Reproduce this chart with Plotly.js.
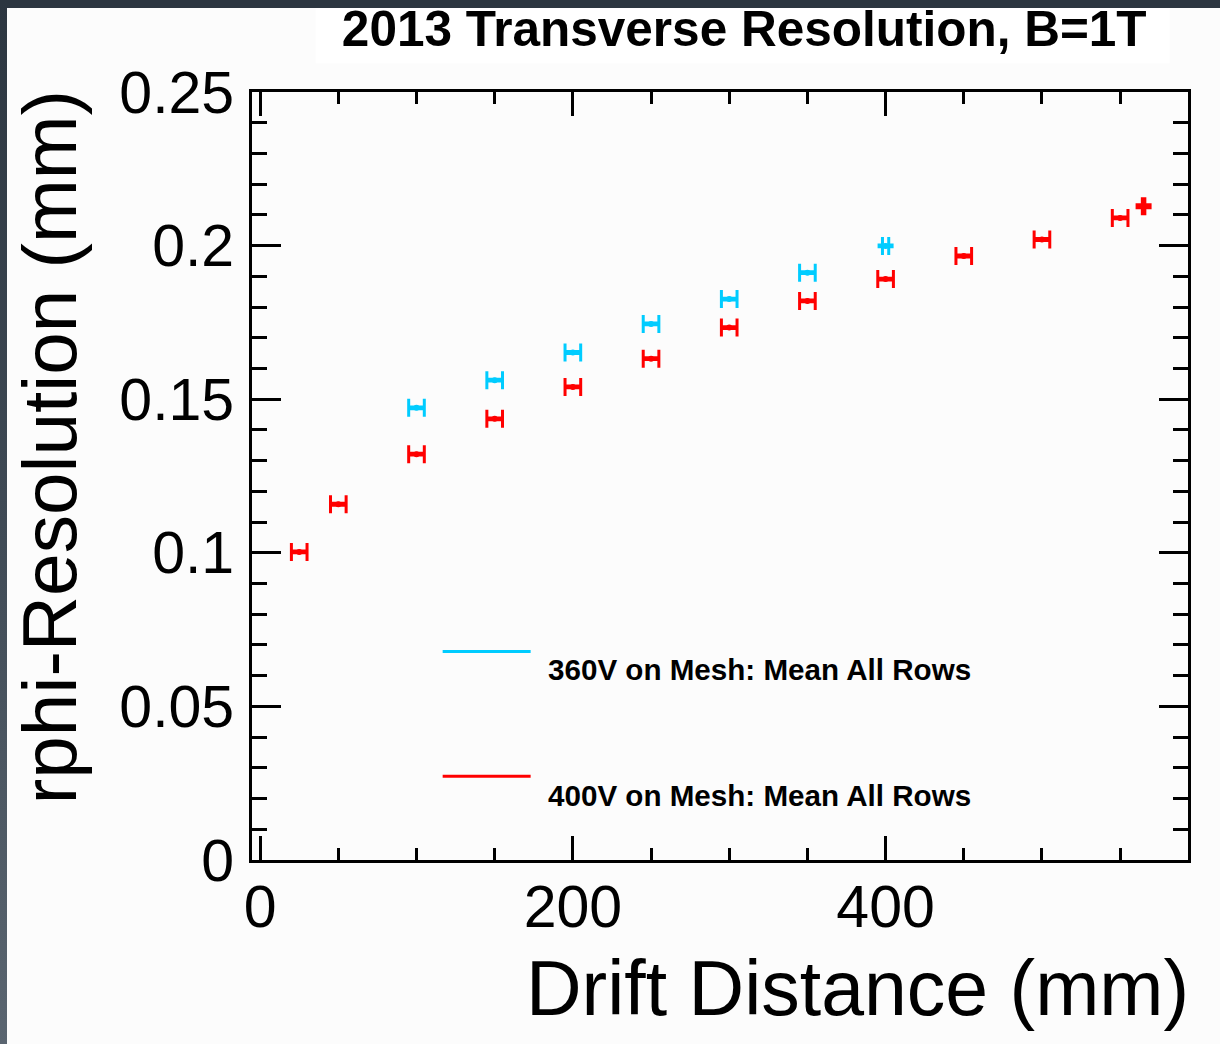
<!DOCTYPE html>
<html>
<head>
<meta charset="utf-8">
<script src="https://cdn.plot.ly/plotly-3.0.1.min.js"></script>
<style>
  html, body { margin: 0; padding: 0; width: 1220px; height: 1044px; overflow: hidden; background: #fcfcfc; }
  #plot { position: absolute; left: 0; top: 0; width: 1220px; height: 1044px; }
  .band { position: absolute; z-index: 10; }
  #band-top { left: 0; top: 0; width: 1220px; height: 8px; background: #2c3640; }
  #band-left { left: 0; top: 0; width: 7px; height: 1044px;
    background: linear-gradient(to bottom, #2c3640 0%, #3f4a55 50%, #5a6570 100%); }
</style>
</head>
<body>
<div id="plot"></div>
<div class="band" id="band-top"></div>
<div class="band" id="band-left"></div>
<script>
// Drift distance (mm) and mean rphi resolution (mm), 400 V on the mesh
const red_x  = [25, 50, 100, 150, 200, 250, 300, 350, 400, 450, 500, 550, 565];
const red_y  = [0.1003, 0.1158, 0.1321, 0.1436, 0.1540, 0.1632, 0.1733, 0.1820, 0.1891, 0.1966, 0.2020, 0.2090, 0.2128];
const red_ex = [5.0, 5.0, 5.0, 5.0, 5.0, 5.0, 5.0, 5.0, 5.0, 5.0, 5.0, 5.0, 0.8];
const red_ey = [0.0003, 0.0003, 0.0003, 0.0003, 0.0003, 0.0003, 0.0003, 0.0003, 0.0003, 0.0003, 0.0003, 0.0003, 0.0005];

// Same measurement with 360 V on the mesh
const cyan_x  = [100, 150, 200, 250, 300, 350, 400];
const cyan_y  = [0.1472, 0.1562, 0.1652, 0.1745, 0.1826, 0.1912, 0.1999];
const cyan_ex = [5.0, 5.0, 5.0, 5.0, 5.0, 5.0, 2.0];
const cyan_ey = [0.0003, 0.0003, 0.0003, 0.0003, 0.0003, 0.0003, 0.0003];

const series_names = ['360V on Mesh: Mean All Rows', '400V on Mesh: Mean All Rows'];
const chart_title = '2013 Transverse Resolution, B=1T';
const x_title = 'Drift Distance (mm)';
const y_title = 'rphi-Resolution (mm)';

const CYAN = '#00ccff';
const RED = '#ff0000';
const FONT = 'Liberation Sans, Arial, Helvetica, sans-serif';

function errTrace(x, y, ex, ey, color, name) {
  return {
    type: 'scatter', mode: 'markers', name: name,
    x: x, y: y,
    marker: { size: 0, color: color },
    error_x: { type: 'data', array: ex, symmetric: true, color: color, thickness: 3, width: 9 },
    error_y: { type: 'data', array: ey, symmetric: true, color: color, thickness: 3, width: 8 },
    hoverinfo: 'skip', showlegend: false
  };
}

const traces = [
  errTrace(cyan_x, cyan_y, cyan_ex, cyan_ey, CYAN, series_names[0]),
  errTrace(red_x, red_y, red_ex, red_ey, RED, series_names[1])
];

const axisCommon = {
  showline: true, linecolor: '#000', linewidth: 3, mirror: 'ticks',
  showgrid: false, zeroline: false,
  ticks: 'inside', tickcolor: '#000', tickwidth: 3,
  tickfont: { family: FONT, size: 59, color: '#000' }
};

const layout = {
  width: 1220, height: 1044,
  margin: { l: 252.3, r: 31.7, t: 91.7, b: 183.5, pad: 0 },
  paper_bgcolor: '#fcfcfc', plot_bgcolor: '#fcfcfc',
  showlegend: false,
  title: {
    text: chart_title,
    font: { family: FONT, size: 49.5, color: '#000', weight: 'bold' },
    xref: 'paper', x: 0.5259, xanchor: 'center',
    yref: 'container', y: 0.9722, yanchor: 'middle'
  },
  xaxis: Object.assign({}, axisCommon, {
    range: [-5.2, 593.4], tick0: 0, dtick: 200, ticklen: 24,
    minor: { dtick: 50, tick0: 0, ticks: 'inside', ticklen: 12, tickwidth: 3, tickcolor: '#000' },
    ticklabelstandoff: -7
  }),
  yaxis: Object.assign({}, axisCommon, {
    range: [0, 0.25], tick0: 0, dtick: 0.05, ticklen: 29,
    minor: { dtick: 0.01, tick0: 0, ticks: 'inside', ticklen: 15, tickwidth: 3, tickcolor: '#000' },
    ticklabelstandoff: 3
  }),
  shapes: [
    // title box
    { type: 'rect', xref: 'paper', yref: 'paper', x0: 0.068, x1: 0.9805, y0: 1.0373, y1: 1.1089,
      fillcolor: '#ffffff', line: { width: 0 }, layer: 'below' },
    // legend lines
    { type: 'line', xref: 'paper', yref: 'paper', x0: 0.2037, x1: 0.2977, y0: 0.2716, y1: 0.2716,
      line: { color: CYAN, width: 3 } },
    { type: 'line', xref: 'paper', yref: 'paper', x0: 0.2037, x1: 0.2977, y0: 0.109, y1: 0.109,
      line: { color: RED, width: 3 } }
  ],
  annotations: [
    { text: series_names[0], xref: 'paper', yref: 'paper', x: 0.3145, y: 0.2478,
      xanchor: 'left', yanchor: 'middle', showarrow: false,
      font: { family: FONT, size: 29.6, color: '#000', weight: 'bold' } },
    { text: series_names[1], xref: 'paper', yref: 'paper', x: 0.3145, y: 0.0839,
      xanchor: 'left', yanchor: 'middle', showarrow: false,
      font: { family: FONT, size: 29.6, color: '#000', weight: 'bold' } },
    { text: x_title, xref: 'paper', yref: 'paper', x: 1.0035, y: -0.1665,
      xanchor: 'right', yanchor: 'middle', showarrow: false,
      font: { family: FONT, size: 77, color: '#000' } },
    { text: y_title, xref: 'paper', yref: 'paper', x: -0.2162, y: 1.0045, textangle: -90,
      xanchor: 'center', yanchor: 'top', showarrow: false,
      font: { family: FONT, size: 76.5, color: '#000' } }
  ]
};

Plotly.newPlot('plot', traces, layout, { displayModeBar: false, staticPlot: true });
</script>
</body>
</html>
